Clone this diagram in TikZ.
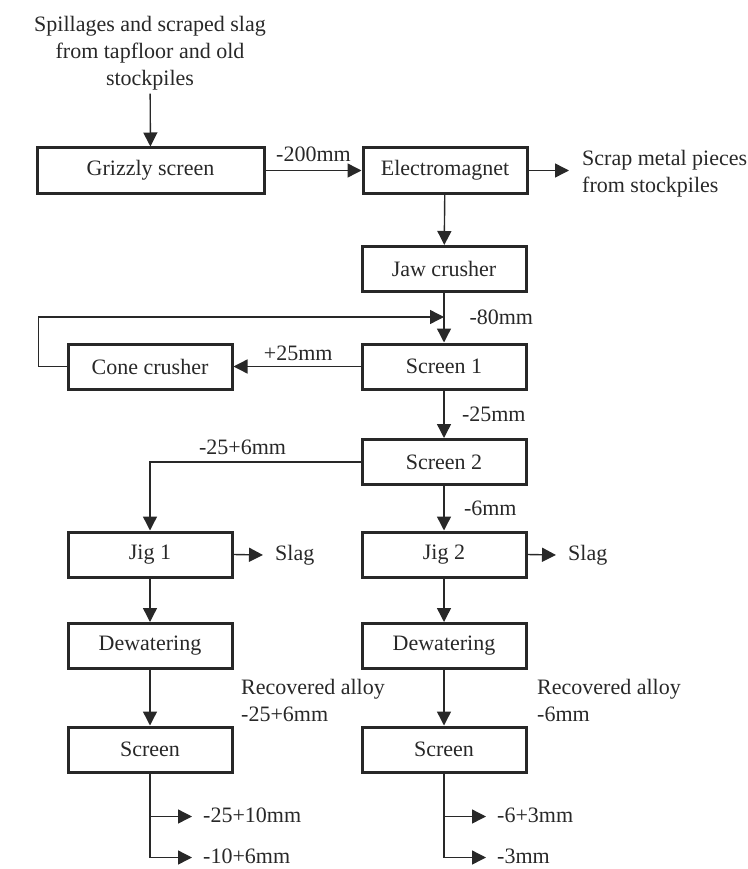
\documentclass[tikz,border=0pt]{standalone}
\usepackage{fontspec}
\setmainfont{Liberation Serif}
\usepackage{tikz}
\usetikzlibrary{arrows.meta, positioning, calc}

\definecolor{ink}{RGB}{40,40,40}

\tikzset{
	unitbox/.style={draw=ink, line width=3pt, minimum width=164pt, minimum height=45pt, inner sep=0pt},
	flowtext/.style={text=ink, font=\fontsize{22}{27}\selectfont},
	flowline/.style={draw=ink, line width=1.4pt},
	flowarrow/.style={flowline, -{Triangle[length=14pt,width=14pt]}}
}

\begin{document}
\begin{tikzpicture}[x=1pt, y=-1pt, every node/.style={flowtext}]
	\useasboundingbox (0,0) rectangle (747,869);
	
	% Feed and first stage
	\node[align=center] (feed) at (150,53) {Spillages and scraped slag\\from tapfloor and old\\stockpiles};
	\node[unitbox, minimum width=227pt] (grizzly) at (150.5,170.5) {Grizzly screen};
	\node[unitbox] (magnet) at (445,170.5) {Electromagnet};
	\node[align=left, anchor=west, inner sep=0pt] (scrap) at (582,174) {Scrap metal pieces\\from stockpiles};
	\node[unitbox] (jaw) at (444,269) {Jaw crusher};
	
	% Crushing circuit
	\node[unitbox] (screenA) at (444,366.5) {Screen 1};
	\node[unitbox] (cone) at (150,366.5) {Cone crusher};
	\node[unitbox] (screenB) at (444,462) {Screen 2};
	
	% Two jigging lines
	\node[unitbox] (jigA) at (150,554.5) {Jig 1};
	\node[unitbox] (jigB) at (444,554.5) {Jig 2};
	\node[unitbox] (dewA) at (150,646) {Dewatering};
	\node[unitbox] (dewB) at (444,646) {Dewatering};
	\node[unitbox] (sieveA) at (150,749.5) {Screen};
	\node[unitbox] (sieveB) at (444,749.5) {Screen};
	
	\node[anchor=west, inner sep=0pt] (slagA) at (275,555) {Slag};
	\node[anchor=west, inner sep=0pt] (slagB) at (568,555) {Slag};
	\node[align=left, anchor=west, inner sep=0pt] (alloyA) at (241,700) {Recovered alloy\\-25+6mm};
	\node[align=left, anchor=west, inner sep=0pt] (alloyB) at (537,700) {Recovered alloy\\-6mm};
	
	% Main connectors
	\draw[flowarrow] (feed) -- (grizzly);
	\draw[flowarrow] (grizzly) -- (magnet) node[pos=0.5, above=5pt] (sizeA) {-200mm};
	\draw[flowarrow] (magnet.east) -- ($(scrap.west |- magnet)+(-13,0)$);
	\draw[flowarrow] (magnet) -- (jaw);
	\draw[flowarrow] (jaw) -- (screenA);
	
	% Recycle of the oversize
	\coordinate (merge) at (jaw.south |- 0,317);
	\draw[flowarrow] (screenA) -- (cone) node[pos=0.49, above=2pt] (sizeB) {+25mm};
	\draw[flowarrow] (cone.west) -- ++(-28,0) |- (merge);
	\node[right=22pt of merge] (sizeC) {-80mm};
	
	\draw[flowarrow] (screenA) -- (screenB) node[pos=0.5, right=14pt] (sizeD) {-25mm};
	\draw[flowarrow] (screenB.west) -| (jigA) node[pos=0.28, above=3pt] (sizeE) {-25+6mm};
	\draw[flowarrow] (screenB) -- (jigB) node[pos=0.5, right=16pt] (sizeF) {-6mm};
	
	% Jigs, dewatering, screens
	\foreach \col in {A,B} {
		\draw[flowarrow] (jig\col.east) -- ($(slag\col.west)+(-12,0)$);
		\draw[flowarrow] (jig\col) -- (dew\col);
		\draw[flowarrow] (dew\col) -- (sieve\col);
		\draw[flowline] (sieve\col.south) -- ++(0,84);
		\draw[flowarrow] ($(sieve\col.south)+(0,43)$) -- ++(42,0);
		\draw[flowarrow] ($(sieve\col.south)+(0,84)$) -- ++(42,0);
	}
	
	% Product sizes
	\node[anchor=west, inner sep=0pt] (prodA) at (203,815) {-25+10mm};
	\node[anchor=west, inner sep=0pt] (prodB) at (203,856) {-10+6mm};
	\node[anchor=west, inner sep=0pt] (prodC) at (497,815) {-6+3mm};
	\node[anchor=west, inner sep=0pt] (prodD) at (497,856) {-3mm};
\end{tikzpicture}
\end{document}
